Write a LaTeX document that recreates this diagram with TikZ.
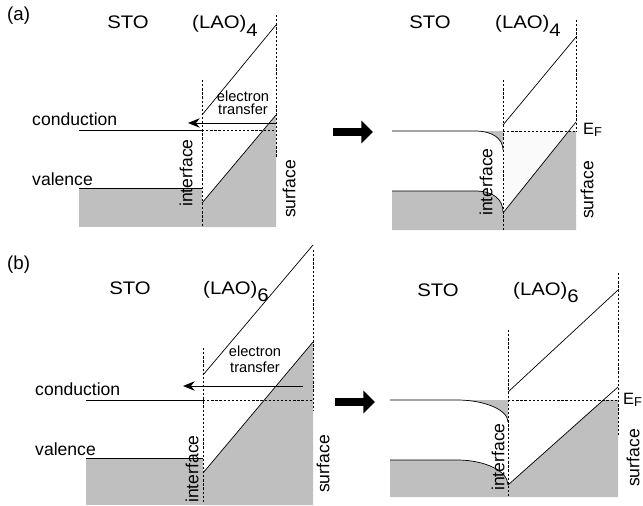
\documentclass[tikz,border=0pt]{standalone}
\usepackage{fontspec}
\setmainfont{Liberation Sans}
\newfontfamily\widefont[FakeStretch=1.12]{Liberation Sans}
\usetikzlibrary{arrows.meta}
\newcommand\lowsub[1]{\raisebox{-6pt}{#1}}
\newcommand\fermi{{\fontsize{14}{15}\selectfont E\raisebox{-2.5pt}{\fontsize{11}{12}\selectfont F}}}

\begin{document}
\begin{tikzpicture}[x=0.03cm, y=-0.03cm,
  bandline/.style={line width=0.6pt},
  guideline/.style={line width=0.5pt, dash pattern=on 2pt off 1.5pt},
  grayfill/.style={fill=gray!50, draw=none},
  lightfill/.style={fill=gray!4, draw=none},
  txt/.style={inner sep=0pt, font=\fontsize{15}{18}\selectfont},
  head/.style={inner sep=0pt, font=\widefont\fontsize{15.5}{18}\selectfont},
  tag/.style={inner sep=0pt, font=\fontsize{16}{18}\selectfont},
  smalltxt/.style={inner sep=0pt, align=center},
  vert/.style={inner sep=0pt, rotate=90, font=\fontsize{15}{18}\selectfont},
  etarrow/.style={line width=0.8pt, -{Stealth[length=10pt,width=8pt]}},
  bigarrow/.style={line width=7.5pt, -{Triangle[length=10pt,width=19pt]}}]
  \useasboundingbox (0,0) rectangle (643,506);

  % (a) before transfer
  \coordinate (ac1) at (79,130);
  \coordinate (ac2) at (202,130);
  \coordinate (ac3) at (276,130);
  \coordinate (av1) at (79,188);
  \coordinate (av2) at (202,188);
  \coordinate (ab1) at (79,227);
  \coordinate (ab2) at (202,227);
  \coordinate (ab3) at (276,227);
  \coordinate (al1) at (202,203);
  \coordinate (al2) at (276,115);
  \coordinate (au1) at (202,115);
  \coordinate (au2) at (276,25);
  \coordinate (ai1) at (202,80);
  \coordinate (as1) at (276,15);
  \coordinate (as2) at (276,157);
  \coordinate (ae1) at (276,123);
  \coordinate (ae2) at (188,123);
  \fill[grayfill] (av1) rectangle (ab2);
  \fill[grayfill] (al1) -- (al2) -- (ab3) -- (ab2) -- cycle;
  \draw[bandline] (ac1) -- (ac2);
  \draw[bandline] (av1) -- (av2);
  \draw[bandline] (al1) -- (al2);
  \draw[bandline] (au1) -- (au2);
  \draw[guideline] (ac2) -- (ac3);
  \draw[guideline] (ai1) -- (ab2);
  \draw[guideline] (as1) -- (as2);
  \draw[etarrow] (ae1) -- (ae2);
  \node[tag, anchor=base west] (atag) at (7,21) {(a)};
  \node[head] (asto) at (128,22) {STO};
  \node[head, anchor=base west] (alao) at (192,29) {(LAO)\lowsub{4}};
  \node[smalltxt, font=\fontsize{12.5}{11}\selectfont] (aet) at (243,103) {electron\\transfer};
  \node[txt, anchor=base west] (acon) at (32,125) {conduction};
  \node[txt, anchor=base west] (aval) at (32,185) {valence};
  \node[vert] (aint) at (186,173) {interface};
  \node[vert] (asur) at (289,189) {surface};

  % (a) after transfer
  \coordinate (pa1) at (333,132);
  \coordinate (pa2) at (373,132);
  \coordinate (rc1) at (392,131);
  \coordinate (rc2) at (475,131);
  \coordinate (rc3) at (503,150);
  \coordinate (rf1) at (503,131);
  \coordinate (rf2) at (569,131);
  \coordinate (rf3) at (576,131);
  \coordinate (rv1) at (392,191);
  \coordinate (rv2) at (475,191);
  \coordinate (rv3) at (503,212);
  \coordinate (rb1) at (392,230);
  \coordinate (rb2) at (503,230);
  \coordinate (rb3) at (576,230);
  \coordinate (rl1) at (503,213);
  \coordinate (rl2) at (576,122);
  \coordinate (ru1) at (503,125);
  \coordinate (ru2) at (576,37);
  \coordinate (ri1) at (503,80);
  \coordinate (rs1) at (576,20);
  \fill[lightfill] (rf1) -- (rf2) -- (rl1) -- cycle;
  \fill[grayfill] (rc2) .. controls (493,131) and (503,139) .. (rc3) -- (rf1) -- cycle;
  \fill[grayfill] (rv1) -- (rv2) .. controls (493,191) and (503,199) .. (rv3) -- (rb2) -- (rb1) -- cycle;
  \fill[grayfill] (rl1) -- (rf2) -- (rf3) -- (rb3) -- (rb2) -- cycle;
  \draw[bandline] (rc1) -- (rc2) .. controls (493,131) and (503,139) .. (rc3);
  \draw[bandline] (rv1) -- (rv2) .. controls (493,191) and (503,199) .. (rv3);
  \draw[bandline] (rl1) -- (rl2);
  \draw[bandline] (ru1) -- (ru2);
  \draw[guideline] (rf1) -- (rf3);
  \draw[guideline] (ri1) -- (rb2);
  \draw[guideline] (rs1) -- (rf3);
  \draw[bigarrow] (pa1) -- (pa2);
  \node[head] (rsto) at (430,22) {STO};
  \node[head, anchor=base west] (rlao) at (495,29) {(LAO)\lowsub{4}};
  \node[anchor=base west, inner sep=0pt] (ref) at (583,134) {\fermi};
  \node[vert] (rint) at (486,182) {interface};
  \node[vert] (rsur) at (587,190) {surface};

  % (b) before transfer
  \coordinate (bc1) at (86,400);
  \coordinate (bc2) at (203,400);
  \coordinate (bc3) at (313,400);
  \coordinate (bv1) at (86,458);
  \coordinate (bv2) at (203,458);
  \coordinate (bb2) at (203,505);
  \coordinate (bb3) at (313,505);
  \coordinate (bl1) at (203,473);
  \coordinate (bl2) at (313,342);
  \coordinate (bu1) at (203,375);
  \coordinate (bu2) at (313,245);
  \coordinate (bi1) at (203,348);
  \coordinate (bi2) at (203,503);
  \coordinate (bs1) at (313,250);
  \coordinate (bs2) at (313,410);
  \coordinate (be1) at (303,386);
  \coordinate (be2) at (183,386);
  \fill[grayfill] (bv1) rectangle (bb2);
  \fill[grayfill] (bl1) -- (bl2) -- (bb3) -- (bb2) -- cycle;
  \draw[bandline] (bc1) -- (bc2);
  \draw[bandline] (bv1) -- (bv2);
  \draw[bandline] (bl1) -- (bl2);
  \draw[bandline] (bu1) -- (bu2);
  \draw[guideline] (bc2) -- (bc3);
  \draw[guideline] (bi1) -- (bi2);
  \draw[guideline] (bs1) -- (bs2);
  \draw[etarrow] (be1) -- (be2);
  \node[tag, anchor=base west] (btag) at (7,269) {(b)};
  \node[head] (bsto) at (130,288) {STO};
  \node[head, anchor=base west] (blao) at (203,294) {(LAO)\lowsub{6}};
  \node[smalltxt, font=\fontsize{12.5}{13.7}\selectfont] (bet) at (255,359.5) {electron\\transfer};
  \node[txt, anchor=base west] (bcon) at (35,395) {conduction};
  \node[txt, anchor=base west] (bval) at (35,455) {valence};
  \node[vert] (bint) at (192,469) {interface};
  \node[vert] (bsur) at (323,464) {surface};

  % (b) after transfer
  \coordinate (pb1) at (335,402);
  \coordinate (pb2) at (375,402);
  \coordinate (sc1) at (390,400);
  \coordinate (sc2) at (457,400);
  \coordinate (sc3) at (508,422);
  \coordinate (sf1) at (508,400);
  \coordinate (sf2) at (603,400);
  \coordinate (sf3) at (618,400);
  \coordinate (sv1) at (390,460);
  \coordinate (sv2) at (457,460);
  \coordinate (sv3) at (508,485);
  \coordinate (sb1) at (390,497);
  \coordinate (sb2) at (508,497);
  \coordinate (sb3) at (618,497);
  \coordinate (sl2) at (618,387);
  \coordinate (su1) at (508,392);
  \coordinate (su2) at (618,290);
  \coordinate (si1) at (508,330);
  \coordinate (ss1) at (618,273);
  \coordinate (ss2) at (618,437);
  \fill[grayfill] (sc2) .. controls (485,400) and (508,410) .. (sc3) -- (sf1) -- cycle;
  \fill[grayfill] (sv1) -- (sv2) .. controls (485,460) and (508,471) .. (sv3) -- (sb2) -- (sb1) -- cycle;
  \fill[grayfill] (sv3) -- (sf2) -- (sf3) -- (sb3) -- (sb2) -- cycle;
  \draw[bandline] (sc1) -- (sc2) .. controls (485,400) and (508,410) .. (sc3);
  \draw[bandline] (sv1) -- (sv2) .. controls (485,460) and (508,471) .. (sv3);
  \draw[bandline] (sv3) -- (sl2);
  \draw[bandline] (su1) -- (su2);
  \draw[guideline] (sf1) -- (sf3);
  \draw[guideline] (si1) -- (sb2);
  \draw[guideline] (ss1) -- (ss2);
  \draw[bigarrow] (pb1) -- (pb2);
  \node[head] (ssto) at (438,290) {STO};
  \node[head, anchor=base west] (slao) at (513,295) {(LAO)\lowsub{6}};
  \node[anchor=base west, inner sep=0pt] (sef) at (623,404) {\fermi};
  \node[vert] (sint) at (498,457) {interface};
  \node[vert] (ssur) at (633,458) {surface};
\end{tikzpicture}
\end{document}
